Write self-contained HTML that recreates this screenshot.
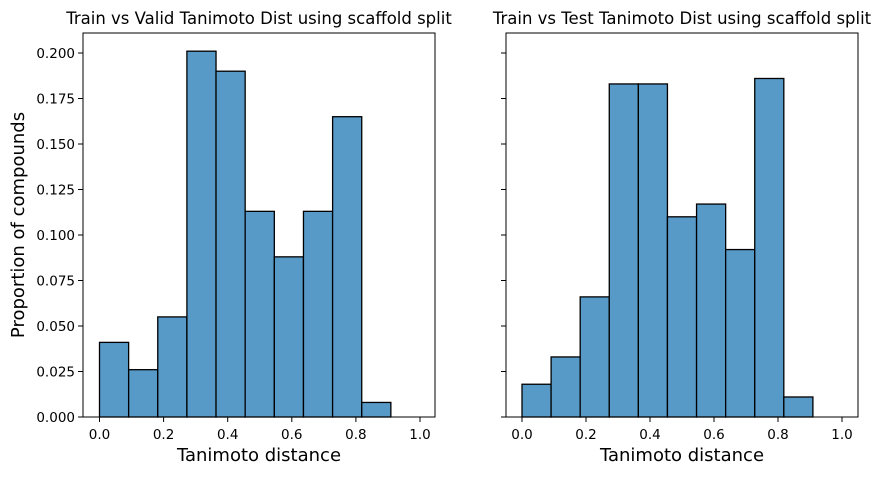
<!DOCTYPE html>
<html><head><meta charset="utf-8"><style>
body{margin:0;background:#fff;}
svg text{font-family:"DejaVu Sans","Liberation Sans",sans-serif;fill:#000;}
</style></head><body>
<svg id="chart" width="882" height="474" xmlns="http://www.w3.org/2000/svg"></svg>
<script>
const binEdges = [0,0.0909,0.1818,0.2727,0.3636,0.4545,0.5455,0.6364,0.7273,0.8182,0.9091,1.0];
const validValues = [0.041,0.026,0.055,0.201,0.190,0.113,0.088,0.113,0.165,0.008,0];
const testValues = [0.018,0.033,0.066,0.183,0.183,0.110,0.117,0.092,0.186,0.011,0];
const xTicks = [0,0.2,0.4,0.6,0.8,1.0];
const xTickLabels = ["0.0","0.2","0.4","0.6","0.8","1.0"];
const yTicks = [0,0.025,0.05,0.075,0.1,0.125,0.15,0.175,0.2];
const yTickLabels = ["0.000","0.025","0.050","0.075","0.100","0.125","0.150","0.175","0.200"];
const titles = ["Train vs Valid Tanimoto Dist using scaffold split","Train vs Test Tanimoto Dist using scaffold split"];

const svgEl = document.getElementById('chart');
const NS = 'http://www.w3.org/2000/svg';
function mk(tag, attrs, parent){const e=document.createElementNS(NS,tag);for(const k in attrs)e.setAttribute(k,attrs[k]);parent.appendChild(e);return e;}
const plotTop=33, plotBottom=417;
const yScale = v => plotBottom - v*1820;
const panels = [{left:83,right:435,x0:99.5,x1:420,vals:validValues,name:'valid'},{left:506,right:858,x0:522,x1:842,vals:testValues,name:'test'}];
panels.forEach((p,pi)=>{
  const g = mk('g',{},svgEl);
  
  
  const xs = v => p.x0 + v*(p.x1-p.x0);
  p.vals.forEach((v,i)=>{
    if(v<=0) return;
    const r = mk('rect',{x:xs(binEdges[i]),y:yScale(v),width:xs(binEdges[i+1])-xs(binEdges[i]),height:plotBottom-yScale(v),fill:'#5799c7',stroke:'#000','stroke-width':1.3},g);
    
    
  });
  const frame = mk('rect',{x:p.left,y:plotTop,width:p.right-p.left,height:plotBottom-plotTop,fill:'none',stroke:'#000','stroke-width':1},g);
  
  
  xTicks.forEach((t,i)=>{
    const x=xs(t);
    mk('line',{x1:x,x2:x,y1:plotBottom,y2:plotBottom+5,stroke:'#000'},g);
    const tx = mk('text',{x:x,y:plotBottom+22,'text-anchor':'middle','font-size':13.5},g);
    tx.textContent = xTickLabels[i];
    
    
  });
  yTicks.forEach((t,i)=>{
    const y=yScale(t);
    mk('line',{x1:p.left-5,x2:p.left,y1:y,y2:y,stroke:'#000'},g);
    if(pi===0){
      const tx = mk('text',{x:p.left-8,y:y+5,'text-anchor':'end','font-size':13.5},g);
      tx.textContent = yTickLabels[i];
      
      
    }
  });
  const ti = mk('text',{x:(p.left+p.right)/2,y:24,'text-anchor':'middle','font-size':16.5},g);
  ti.textContent = titles[pi];
  
  
  const xl = mk('text',{x:(p.left+p.right)/2,y:461,'text-anchor':'middle','font-size':18},g);
  xl.textContent = 'Tanimoto distance';
  
  
});
const yl = mk('text',{x:24,y:225,'text-anchor':'middle','font-size':18,transform:'rotate(-90 24 225)'},svgEl);
yl.textContent = 'Proportion of compounds';


</script>
</body></html>
